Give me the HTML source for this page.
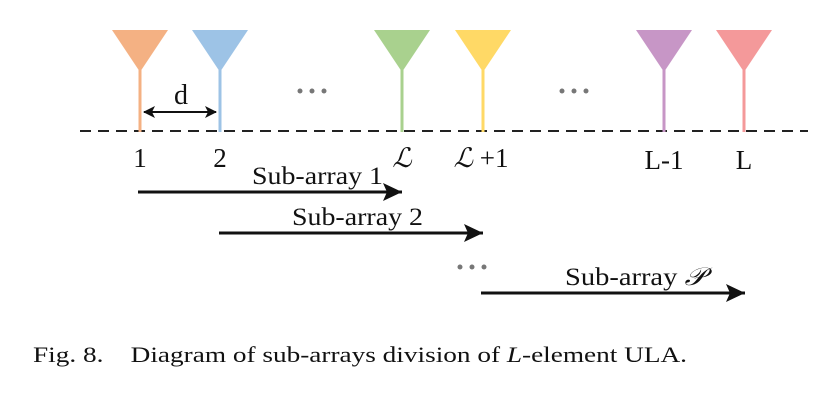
<!DOCTYPE html>
<html><head><meta charset="utf-8"><style>
html,body{margin:0;padding:0;background:#fff;}
svg{display:block;}
text{font-family:"Liberation Serif",serif;fill:#111;}
</style></head><body>
<svg width="831" height="408" viewBox="0 0 831 408" xmlns="http://www.w3.org/2000/svg">
<defs>
<marker id="as" markerWidth="20" markerHeight="20" refX="19" refY="10" orient="auto" markerUnits="userSpaceOnUse">
<path d="M0,1 L19,10 L0,19 L4,10 Z" fill="#111"/></marker>
<marker id="ad" markerWidth="12" markerHeight="12" refX="11" refY="6" orient="auto-start-reverse" markerUnits="userSpaceOnUse">
<path d="M0,0 L12,6 L0,12 L3,6 Z" fill="#111"/></marker>
</defs>
<line x1="80" y1="131" x2="808" y2="131" stroke="#222" stroke-width="2" stroke-dasharray="11,7"/>
<g stroke-width="3">
<line x1="140" y1="70" x2="140" y2="132" stroke="#f4b183"/>
<line x1="220" y1="70" x2="220" y2="132" stroke="#9dc3e6"/>
<line x1="402" y1="70" x2="402" y2="132" stroke="#a9d18e"/>
<line x1="483" y1="70" x2="483" y2="132" stroke="#ffd966"/>
<line x1="664" y1="70" x2="664" y2="132" stroke="#c796c6"/>
<line x1="744" y1="70" x2="744" y2="132" stroke="#f4999a"/>
</g>
<polygon points="112,30 168,30 140,72" fill="#f4b183"/>
<polygon points="192,30 248,30 220,72" fill="#9dc3e6"/>
<polygon points="374,30 430,30 402,72" fill="#a9d18e"/>
<polygon points="455,30 511,30 483,72" fill="#ffd966"/>
<polygon points="636,30 692,30 664,72" fill="#c796c6"/>
<polygon points="716,30 772,30 744,72" fill="#f4999a"/>
<line x1="144" y1="112" x2="216" y2="112" stroke="#111" stroke-width="2" marker-start="url(#ad)" marker-end="url(#ad)"/>
<text x="181" y="104" font-size="28" text-anchor="middle">d</text>
<g fill="#777"><circle cx="300" cy="91" r="2.5"/><circle cx="312" cy="91" r="2.5"/><circle cx="324" cy="91" r="2.5"/>
<circle cx="562" cy="91" r="2.5"/><circle cx="574" cy="91" r="2.5"/><circle cx="586" cy="91" r="2.5"/>
<circle cx="460" cy="267" r="2.5"/><circle cx="472" cy="267" r="2.5"/><circle cx="484" cy="267" r="2.5"/></g>
<g font-size="27" text-anchor="middle">
<text x="140" y="167">1</text>
<text x="220" y="167">2</text>
<text x="402" y="167" font-style="italic">ℒ</text>
<text x="481" y="167"><tspan font-style="italic">ℒ</tspan> +1</text>
<text x="664" y="169">L-1</text>
<text x="744" y="169">L</text>
</g>
<g font-size="25">
<text x="252" y="184" textLength="131" lengthAdjust="spacingAndGlyphs">Sub-array 1</text>
<text x="292" y="225" textLength="131" lengthAdjust="spacingAndGlyphs">Sub-array 2</text>
<text x="565" y="285" textLength="140" lengthAdjust="spacingAndGlyphs">Sub-array <tspan font-style="italic">𝒫</tspan></text>
</g>
<g stroke="#111" stroke-width="3">
<line x1="138" y1="192" x2="402" y2="192" marker-end="url(#as)"/>
<line x1="219" y1="233" x2="483" y2="233" marker-end="url(#as)"/>
<line x1="481" y1="293" x2="745" y2="293" marker-end="url(#as)"/>
</g>
<text x="33" y="362" font-size="22" textLength="654" lengthAdjust="spacingAndGlyphs">Fig. 8.&#160;&#160;&#160; Diagram of sub-arrays division of <tspan font-style="italic">L</tspan>-element ULA.</text>
</svg>
</body></html>
